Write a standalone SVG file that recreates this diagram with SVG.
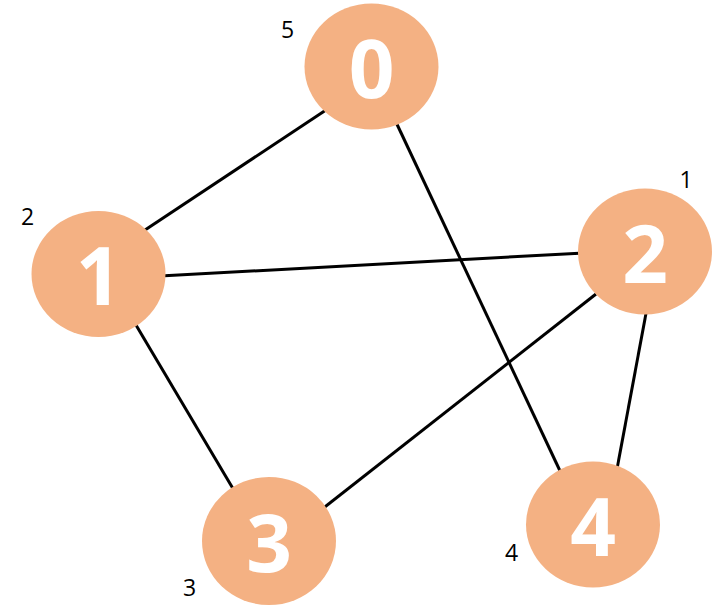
<svg xmlns="http://www.w3.org/2000/svg" width="723" height="612" viewBox="0 0 723 612">
<style>
.edge{stroke:#000;stroke-width:3;fill:none}
.node ellipse{fill:#F4B183}
.node text{font-family:"Open Sans","Noto Sans",sans-serif;font-weight:bold;font-size:80px;fill:#fff;text-anchor:middle}
.lbl{font-family:"Open Sans","Noto Sans",sans-serif;font-size:23px;fill:#000;text-anchor:middle}
</style>
<rect width="723" height="612" fill="#fff"/>
<g id="edges">
<line class="edge" x1="329" y1="108" x2="142" y2="232"/>
<line class="edge" x1="395" y1="120" x2="561" y2="473"/>
<line class="edge" x1="160" y1="276" x2="584" y2="253"/>
<line class="edge" x1="133" y1="320" x2="235" y2="492"/>
<line class="edge" x1="596" y1="294" x2="321" y2="510"/>
<line class="edge" x1="647" y1="308" x2="617" y2="469"/>
</g>
<g id="node0" class="node"><ellipse cx="371.5" cy="66.5" rx="67" ry="63"/><text x="371.5" y="98">0</text></g>
<g id="node1" class="node"><ellipse cx="98.5" cy="274" rx="67" ry="63"/><text x="98.5" y="305">1</text></g>
<g id="node2" class="node"><ellipse cx="645" cy="251.5" rx="67" ry="63"/><text x="645" y="282.5">2</text></g>
<g id="node3" class="node"><ellipse cx="269" cy="541" rx="67" ry="64"/><text x="269" y="572">3</text></g>
<g id="node4" class="node"><ellipse cx="593" cy="524.5" rx="67" ry="63"/><text x="593" y="555.5">4</text></g>
<g id="labels">
<text class="lbl" x="287.5" y="38">5</text>
<text class="lbl" x="27.5" y="225">2</text>
<text class="lbl" x="686" y="188">1</text>
<text class="lbl" x="189.5" y="596">3</text>
<text class="lbl" x="511.5" y="561">4</text>
</g>
</svg>
